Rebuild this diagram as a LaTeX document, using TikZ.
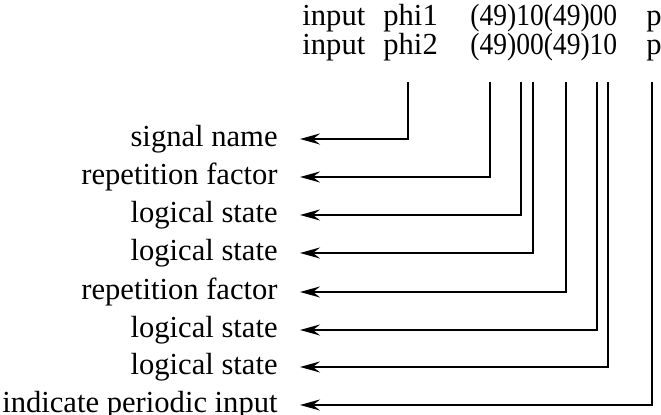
\documentclass[tikz,border=0pt]{standalone}
\usepackage{fontspec}
\setmainfont{Liberation Serif}
\newfontfamily\narrowfont[FakeStretch=0.9]{Liberation Serif}
\usetikzlibrary{arrows.meta}
\tikzset{
    % Text styles
    code/.style={
        anchor=base west,
        inner sep=0pt
    },
    field/.style={
        anchor=mid east,
        inner xsep=11pt,
        inner ysep=0pt
    },
    % Arrow style
    pointer/.style={
        -{Stealth[length=10pt,width=5.5pt,inset=3.5pt]},
        line width=1.1pt,
        draw=black
    }
}

\begin{document}
\fontsize{15.3}{18}\selectfont
\begin{tikzpicture}[x=0.5pt, y=-0.5pt]
    \useasboundingbox (0,0) rectangle (661,415);

    % Input lines
    \node[code] (in1) at (302,26) {input};
    \node[code] (phi1) at (383,26) {phi1};
    \node[code] (seq1) at (470,26) {\narrowfont (49)10(49)00};
    \node[code] (per1) at (646,26) {p};
    \node[code] (in2) at (302,55) {input};
    \node[code] (phi2) at (383,55) {phi2};
    \node[code] (seq2) at (470,55) {\narrowfont (49)00(49)10};
    \node[code] (per2) at (646,55) {p};

    % Field names
    \node[field] (name) at (300,139) {signal name};
    \node[field] (rep1) at (300,177) {repetition factor};
    \node[field] (st1) at (300,215) {logical state};
    \node[field] (st2) at (300,253) {logical state};
    \node[field] (rep2) at (300,292) {repetition factor};
    \node[field] (st3) at (300,330) {logical state};
    \node[field] (st4) at (300,367) {logical state};
    \node[field] (periodic) at (300,405) {indicate periodic input};

    % Pointer starts below the second line
    \coordinate (pname) at (408,82);
    \coordinate (prep1) at (490,82);
    \coordinate (pst1) at (521,82);
    \coordinate (pst2) at (533,82);
    \coordinate (prep2) at (566,82);
    \coordinate (pst3) at (597,82);
    \coordinate (pst4) at (608,82);
    \coordinate (pper) at (652,82);

    \draw[pointer] (pname) |- (name.mid east);
    \draw[pointer] (prep1) |- (rep1.mid east);
    \draw[pointer] (pst1) |- (st1.mid east);
    \draw[pointer] (pst2) |- (st2.mid east);
    \draw[pointer] (prep2) |- (rep2.mid east);
    \draw[pointer] (pst3) |- (st3.mid east);
    \draw[pointer] (pst4) |- (st4.mid east);
    \draw[pointer] (pper) |- (periodic.mid east);
\end{tikzpicture}
\end{document}
